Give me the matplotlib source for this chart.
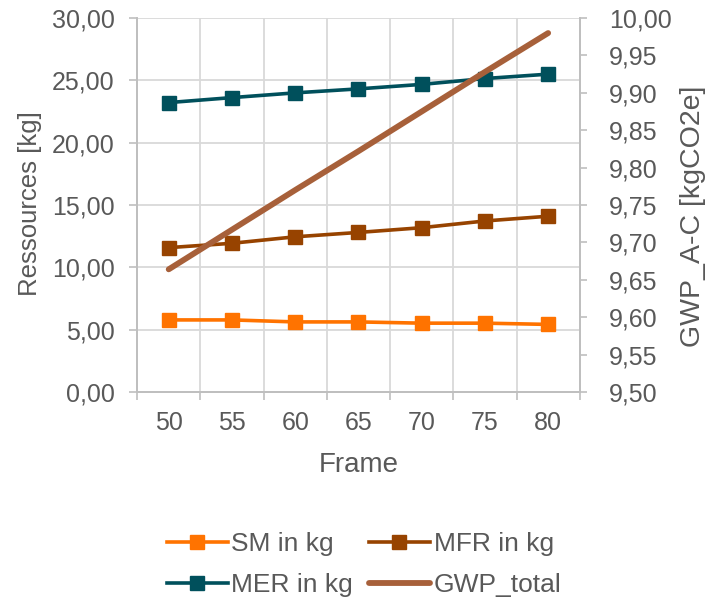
import matplotlib.pyplot as plt
from matplotlib.ticker import FuncFormatter, MultipleLocator

plt.rcParams['font.family'] = ['Liberation Sans', 'DejaVu Sans']

frames = ['50', '55', '60', '65', '70', '75', '80']
sm = [5.78, 5.78, 5.62, 5.62, 5.52, 5.52, 5.42]
mfr = [11.58, 11.93, 12.45, 12.80, 13.18, 13.72, 14.10]
mer = [23.22, 23.62, 24.00, 24.32, 24.68, 25.15, 25.50]
gwp = [9.664, 9.717, 9.770, 9.822, 9.875, 9.928, 9.980]

txt = '#595959'
grid = '#D9D9D9'
axc = '#BFBFBF'
fs = 18

fig = plt.figure(figsize=(7.14, 6.03), dpi=100)
ax = fig.add_axes([0.192, 0.350, 0.620, 0.620])
ax2 = ax.twinx()

x = list(range(len(frames)))
l1, = ax.plot(x, sm, color='#FF7300', lw=2.6, marker='s', ms=10.5, label='SM in kg')
l2, = ax.plot(x, mfr, color='#974300', lw=2.6, marker='s', ms=10.5, label='MFR in kg')
l3, = ax.plot(x, mer, color='#00505C', lw=2.6, marker='s', ms=10.5, label='MER in kg')
l4, = ax2.plot(x, gwp, color='#A7603A', lw=4.2, solid_capstyle='round', label='GWP_total')

comma = lambda fmt: FuncFormatter(lambda v, p: (fmt % v).replace('.', ','))

ax.set_xlim(-0.5, len(frames) - 0.5)
ax.set_ylim(0, 30)
ax.yaxis.set_major_locator(MultipleLocator(5))
ax.yaxis.set_major_formatter(comma('%.2f'))
ax.set_xticks(x)
ax.set_xticklabels(frames)
ax.set_xticks([i - 0.5 for i in range(len(frames) + 1)], minor=True)
ax.tick_params(axis='x', which='major', length=0, pad=14, labelsize=fs, colors=txt)
ax.tick_params(axis='x', which='minor', length=6, width=1.2, color=axc, direction='out')
ax.tick_params(axis='y', length=6, width=1.2, color=axc, labelsize=fs, labelcolor=txt, pad=10)
ax.grid(True, axis='y', color=grid, lw=1.3)
ax.grid(True, axis='x', which='minor', color=grid, lw=1.3)
ax.set_axisbelow(True)

ax2.set_ylim(9.5, 10.0)
ax2.yaxis.set_major_locator(MultipleLocator(0.05))
ax2.yaxis.set_major_formatter(comma('%.2f'))
ax2.tick_params(axis='y', length=5, width=1.2, color=axc, labelsize=fs, labelcolor=txt, pad=16)

for a in (ax, ax2):
    a.spines['top'].set_visible(False)
    for s in ('left', 'right', 'bottom'):
        a.spines[s].set_color(axc)
        a.spines[s].set_linewidth(1.3)

ax.set_xlabel('Frame', fontsize=20, color=txt, labelpad=12)
ax.set_ylabel('Ressources [kg]', fontsize=18.5, color=txt)
ax.yaxis.set_label_coords(-0.214, 0.505)
ax2.set_ylabel('GWP_A-C [kgCO2e]', fontsize=20.5, color=txt)
ax2.yaxis.set_label_coords(1.226, 0.47)

fig.legend(handles=[l1, l3, l2, l4], loc='center', bbox_to_anchor=(0.51, 0.064),
           ncol=2, frameon=False, fontsize=19, labelcolor=txt,
           handlelength=2.3, handletextpad=0.15, columnspacing=0.6, labelspacing=0.65)

fig.savefig('out.png', dpi=100)
